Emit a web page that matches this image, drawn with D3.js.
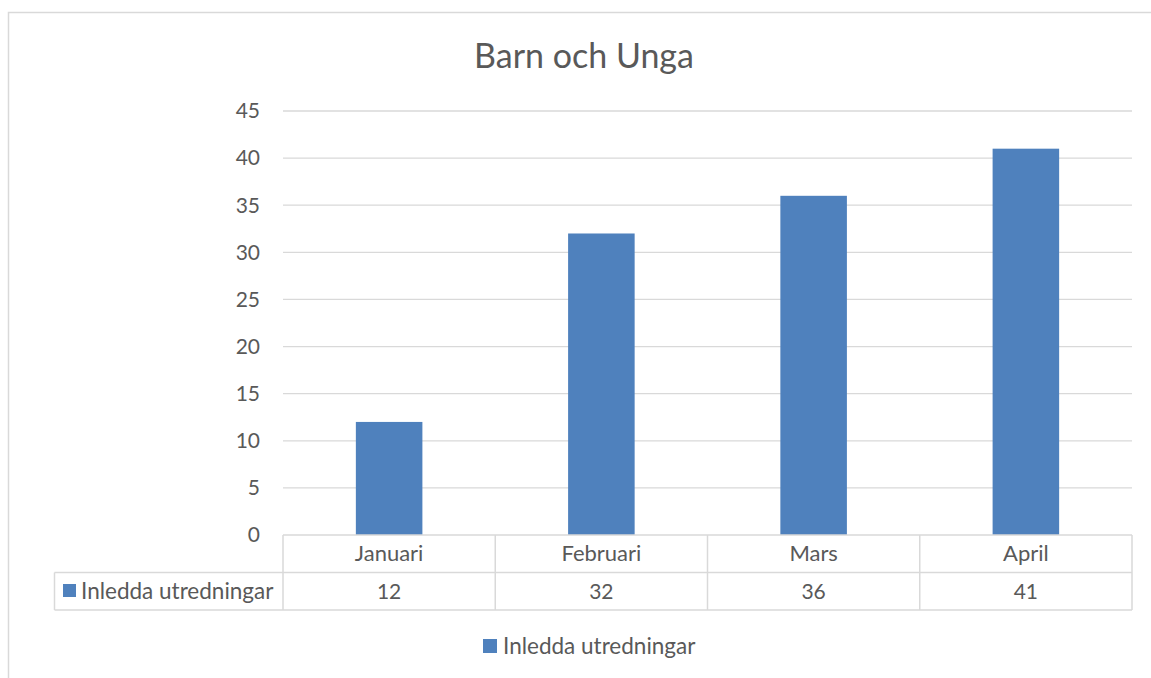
<!DOCTYPE html>
<html>
<head>
<meta charset="utf-8">
<script src="https://d3js.org/d3.v7.min.js"></script>
<style>
  body { margin: 0; background: #fff; }
  svg text { font-family: Lato, "Open Sans", sans-serif; fill: #595959; }
</style>
</head>
<body>
<div id="chart"></div>
<script>
// Chart data
const title = "Barn och Unga";
const seriesName = "Inledda utredningar";
const months = ["Januari", "Februari", "Mars", "April"];
const values = [12, 32, 36, 41];
const yTicks = [0, 5, 10, 15, 20, 25, 30, 35, 40, 45];

const W = 1151, H = 678;
const gridColor = "#d9d9d9";
const barColor = "#4f81bd";

const svg = d3.select("#chart").append("svg")
    .attr("width", W)
    .attr("height", H);

// Outer chart frame (extends past the right and bottom edges)
svg.append("rect")
    .attr("x", 8.5).attr("y", 12.5)
    .attr("width", W + 20).attr("height", H + 20)
    .attr("fill", "#fff")
    .attr("stroke", gridColor)
    .attr("stroke-width", 1.5);

// Plot area
const plot = { left: 283, right: 1132, top: 111, bottom: 535 };
const rowH = 37.5;

const x = d3.scaleBand()
    .domain(months)
    .range([plot.left, plot.right])
    .padding(0);

const y = d3.scaleLinear()
    .domain([0, 45])
    .range([plot.bottom, plot.top]);

// Excel gap width ~219%
const barW = x.bandwidth() / 3.19;

// Title
svg.append("text")
    .attr("x", 584)
    .attr("y", 68)
    .attr("text-anchor", "middle")
    .style("font-size", "34px")
    .text(title);

// Gridlines
svg.append("g")
    .selectAll("line")
    .data(yTicks.filter(d => d > 0))
    .enter().append("line")
    .attr("x1", plot.left).attr("x2", plot.right)
    .attr("y1", d => y(d)).attr("y2", d => y(d))
    .attr("stroke", gridColor)
    .attr("stroke-width", 1.3);

// Y axis labels
svg.append("g")
    .selectAll("text")
    .data(yTicks)
    .enter().append("text")
    .attr("x", 260)
    .attr("y", d => y(d))
    .attr("dy", "0.35em")
    .attr("text-anchor", "end")
    .style("font-size", "21px")
    .text(d => d);

// Bars
svg.append("g")
    .selectAll("rect")
    .data(months.map((m, i) => ({ month: m, value: values[i] })))
    .enter().append("rect")
    .attr("x", d => x(d.month) + (x.bandwidth() - barW) / 2)
    .attr("y", d => y(d.value))
    .attr("width", barW)
    .attr("height", d => y(0) - y(d.value))
    .attr("fill", barColor);

// Data table
const table = svg.append("g")
    .attr("stroke", gridColor)
    .attr("stroke-width", 1.5)
    .attr("fill", "none");

const tableLeft = 54.5;
const row1 = plot.bottom, row2 = plot.bottom + rowH, row3 = plot.bottom + 2 * rowH;

// horizontal lines
table.append("line").attr("x1", plot.left).attr("x2", plot.right).attr("y1", row1).attr("y2", row1);
table.append("line").attr("x1", tableLeft).attr("x2", plot.right).attr("y1", row2).attr("y2", row2);
table.append("line").attr("x1", tableLeft).attr("x2", plot.right).attr("y1", row3).attr("y2", row3);
// vertical lines
table.append("line").attr("x1", tableLeft).attr("x2", tableLeft).attr("y1", row2).attr("y2", row3);
table.selectAll(".vline")
    .data(months.map(m => x(m)).concat([plot.right]))
    .enter().append("line")
    .attr("class", "vline")
    .attr("x1", d => d).attr("x2", d => d)
    .attr("y1", row1).attr("y2", row3);

// header row (categories)
svg.append("g")
    .selectAll("text")
    .data(months)
    .enter().append("text")
    .attr("x", d => x(d) + x.bandwidth() / 2)
    .attr("y", (row1 + row2) / 2)
    .attr("dy", "0.35em")
    .attr("text-anchor", "middle")
    .style("font-size", "22px")
    .text(d => d);

// value row
svg.append("g")
    .selectAll("text")
    .data(months.map((m, i) => ({ month: m, value: values[i] })))
    .enter().append("text")
    .attr("x", d => x(d.month) + x.bandwidth() / 2)
    .attr("y", (row2 + row3) / 2)
    .attr("dy", "0.35em")
    .attr("text-anchor", "middle")
    .style("font-size", "21px")
    .text(d => d.value);

// row label with legend key
svg.append("rect")
    .attr("x", 63).attr("y", 584)
    .attr("width", 13).attr("height", 13)
    .attr("fill", barColor);
svg.append("text")
    .attr("x", 81)
    .attr("y", (row2 + row3) / 2)
    .attr("dy", "0.35em")
    .style("font-size", "22.5px")
    .text(seriesName);

// Legend
const legend = svg.append("g").attr("transform", "translate(483,639)");
legend.append("rect")
    .attr("width", 14).attr("height", 14)
    .attr("fill", barColor);
legend.append("text")
    .attr("x", 20)
    .attr("y", 7)
    .attr("dy", "0.35em")
    .style("font-size", "22.5px")
    .text(seriesName);
</script>
</body>
</html>
